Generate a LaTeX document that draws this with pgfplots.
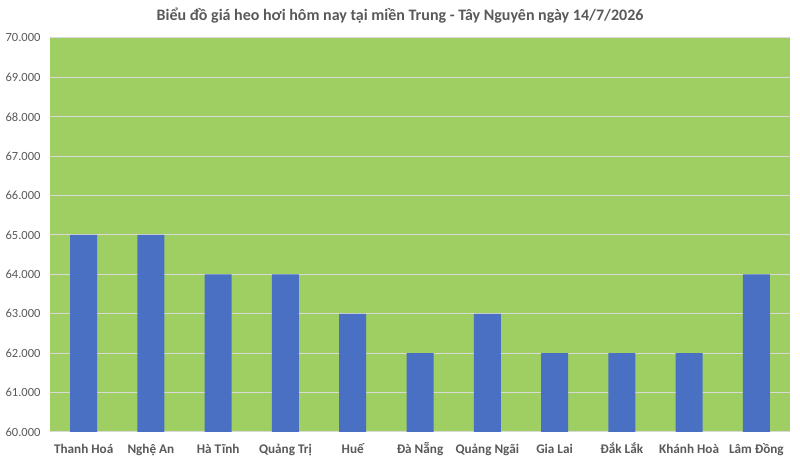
\documentclass[border=0pt]{standalone}
\usepackage{fontspec}
\setmainfont{Carlito}
\usepackage{pgfplots}
\pgfplotsset{compat=1.18}
\definecolor{plotgreen}{HTML}{9FCE63}
\definecolor{barblue}{HTML}{4A70C4}
\definecolor{txtgray}{HTML}{595959}
\definecolor{gridgray}{HTML}{D9D9D9}
\begin{document}
\begin{tikzpicture}[x=1pt,y=1pt]
\useasboundingbox (0,0) rectangle (800,462);
\node[font=\fontsize{16}{18}\selectfont\bfseries, text=txtgray] at (400,446) {Biểu đồ giá heo hơi hôm nay tại miền Trung - Tây Nguyên ngày 14/7/2026};
\begin{axis}[
  at={(50pt,30pt)}, anchor=south west,
  scale only axis, width=740pt, height=394pt,
  xmin=-0.5, xmax=10.5, ymin=60000, ymax=70000,
  ytick={60000,61000,...,70000},
  scaled y ticks=false,
  xtick={0,...,10},
  xticklabels={Thanh Hoá,Nghệ An,Hà Tĩnh,Quảng Trị,Huế,Đà Nẵng,Quảng Ngãi,Gia Lai,Đắk Lắk,Khánh Hoà,Lâm Đồng},
  axis background/.style={fill=plotgreen},
  axis line style={draw=none},
  major tick length=0pt,
  ymajorgrids, grid style={gridgray, line width=1pt},
  yticklabel style={font=\fontsize{12.5}{15}\selectfont, text=txtgray, xshift=-6pt},
  xticklabel style={font=\fontsize{13.2}{16}\selectfont\bfseries, text=txtgray, anchor=base, yshift=-22pt},
  /pgf/number format/.cd, fixed, fixed zerofill, precision=0, 1000 sep={.}, assume math mode=true,
]
\addplot[ybar, bar width=27pt, fill=barblue, draw=none] coordinates {
(0,65000) (1,65000) (2,64000) (3,64000) (4,63000) (5,62000) (6,63000) (7,62000) (8,62000) (9,62000) (10,64000)};
\end{axis}
\end{tikzpicture}
\end{document}
